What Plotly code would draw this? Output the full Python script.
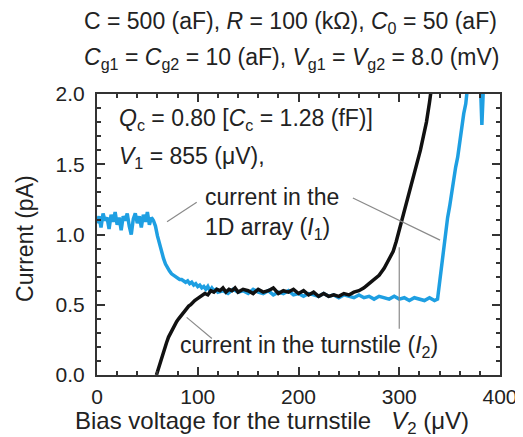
import plotly.graph_objects as go

# ---- data ----
v_array = [0, 2, 4, 6, 8, 10, 12, 14, 16, 18, 20, 22, 24, 26, 28, 30, 32, 34, 36, 38,
           40, 42, 44, 46, 48, 50, 52, 54, 56, 58,
           60, 62, 64, 66, 68, 70, 72, 74, 76, 78, 80, 82, 84, 86, 88, 90, 92, 94, 96, 98,
           100, 102, 104, 106, 108, 110, 112, 114, 116, 118, 120,
           125, 130, 135, 140, 145, 150, 155, 160, 165, 170, 175, 180, 185, 190, 195, 200,
           205, 210, 215, 220, 225, 230, 235, 240, 245, 250, 255, 260, 265, 270, 275, 280,
           285, 290, 295, 300, 305, 310, 315, 320, 325, 330, 335, 338,
           340, 342, 344, 346, 348, 350, 352, 354, 356, 358, 360, 362, 364, 366, 368, 370,
           375, 380, 382, 383, 385]
i_array = [1.08, 1.13, 1.05, 1.15, 1.10, 1.12, 1.04, 1.14, 1.09, 1.16, 1.07, 1.12, 1.03, 1.13, 1.10, 1.15, 1.06, 1.00, 1.11, 1.15,
           1.08, 1.13, 1.05, 1.14, 1.09, 1.16, 1.07, 1.12, 1.10, 1.06,
           0.99, 0.93, 0.87, 0.83, 0.79, 0.76, 0.74, 0.72, 0.71, 0.70, 0.69, 0.68, 0.68, 0.67, 0.66, 0.67, 0.65, 0.66, 0.64, 0.65,
           0.63, 0.64, 0.62, 0.63, 0.61, 0.63, 0.60, 0.62, 0.60, 0.61, 0.59,
           0.60, 0.58, 0.61, 0.59, 0.60, 0.58, 0.61, 0.59, 0.58, 0.60, 0.57, 0.59, 0.58, 0.60, 0.57, 0.58,
           0.56, 0.58, 0.57, 0.56, 0.58, 0.56, 0.57, 0.55, 0.57, 0.56, 0.55, 0.57, 0.55, 0.56, 0.54, 0.56,
           0.55, 0.54, 0.56, 0.54, 0.55, 0.53, 0.55, 0.54, 0.53, 0.55, 0.53, 0.54,
           0.66, 0.78, 0.90, 1.00, 1.12, 1.20, 1.30, 1.38, 1.48, 1.55, 1.66, 1.74, 1.86, 1.93, 2.05, 2.20,
           2.30, 2.20, 1.78, 2.20, 2.30]

v_turnstile = [59, 61, 63, 65, 67, 69, 71, 73, 75, 77, 79, 81, 83, 85, 87, 89, 91, 93, 95, 97,
               99, 101, 104, 107, 110, 113, 116, 119, 122, 125, 128, 131, 134, 137, 140,
               145, 150, 155, 160, 165, 170, 175, 180, 185, 190, 195, 200, 205, 210, 215, 220,
               225, 230, 235, 240, 245, 250, 255, 260, 265, 270, 275, 280, 285, 290, 294, 297,
               300, 303, 306, 309, 312, 315, 318, 321, 324, 327, 330, 332, 334]
i_turnstile = [0.00, 0.05, 0.10, 0.15, 0.19, 0.23, 0.27, 0.30, 0.33, 0.35, 0.38, 0.40, 0.42, 0.44, 0.46, 0.47, 0.49, 0.50, 0.52, 0.53,
               0.54, 0.55, 0.56, 0.58, 0.57, 0.60, 0.59, 0.61, 0.60, 0.62, 0.59, 0.61, 0.60, 0.62, 0.59,
               0.61, 0.60, 0.58, 0.61, 0.59, 0.60, 0.62, 0.58, 0.60, 0.59, 0.61, 0.58, 0.60, 0.57, 0.59, 0.56,
               0.58, 0.56, 0.57, 0.56, 0.58, 0.57, 0.59, 0.60, 0.62, 0.65, 0.68, 0.71, 0.76, 0.82, 0.88, 0.95,
               1.03, 1.11, 1.20, 1.29, 1.37, 1.45, 1.52, 1.60, 1.70, 1.80, 1.94, 2.05, 2.15]

x_ticks = [0, 100, 200, 300, 400]
y_ticks = [0.0, 0.5, 1.0, 1.5, 2.0]
y_tick_labels = ["0.0", "0.5", "1.0", "1.5", "2.0"]

FONT = "Liberation Sans, Arial, sans-serif"
TXT = "#222222"
BLUE = "#1E9FE2"
ANN_SIZE = 23
TICK_SIZE = 21

fig = go.Figure()
fig.add_trace(go.Scatter(x=v_array, y=i_array, mode="lines",
                         line=dict(color=BLUE, width=3.5), showlegend=False))
fig.add_trace(go.Scatter(x=v_turnstile, y=i_turnstile, mode="lines",
                         line=dict(color="#111111", width=3.5), showlegend=False))

axis_common = dict(showline=True, linecolor="#333333", linewidth=2, mirror="ticks",
                   ticks="inside", ticklen=8, tickwidth=1.5, tickcolor="#333333",
                   showgrid=False, zeroline=False, automargin=False,
                   tickfont=dict(family=FONT, size=TICK_SIZE, color=TXT))

fig.update_xaxes(range=[0, 400], tickvals=x_ticks, ticklabelstandoff=2,
                 minor=dict(dtick=20, ticks="inside", ticklen=4, tickwidth=1.5, tickcolor="#333333"),
                 **axis_common)
fig.update_yaxes(range=[0, 2], tickvals=y_ticks, ticktext=y_tick_labels, ticklabelstandoff=6,
                 minor=dict(dtick=0.1, ticks="inside", ticklen=4, tickwidth=1.5, tickcolor="#333333"),
                 **axis_common)

ann_font = dict(family=FONT, size=ANN_SIZE, color=TXT)
annotations = [
    dict(x=0.479, y=1.256, xref="paper", yref="paper", xanchor="center", yanchor="middle", showarrow=False,
         text="C = 500 (aF), <i>R</i> = 100 (kΩ), <i>C</i><sub>0</sub> = 50 (aF)", font=ann_font),
    dict(x=0.485, y=1.128, xref="paper", yref="paper", xanchor="center", yanchor="middle", showarrow=False,
         text="<i>C</i><sub>g1</sub> = <i>C</i><sub>g2</sub> = 10 (aF), <i>V</i><sub>g1</sub> = <i>V</i><sub>g2</sub> = 8.0 (mV)",
         font=ann_font),
    dict(x=0.434, y=-0.168, xref="paper", yref="paper", xanchor="center", yanchor="middle", showarrow=False,
         text="Bias voltage for the turnstile&nbsp;&nbsp;&nbsp;<i>V</i><sub>2</sub> (μV)",
         font=dict(family=FONT, size=24, color=TXT)),
    dict(x=-0.179, y=0.4875, xref="paper", yref="paper", xanchor="center", yanchor="middle", showarrow=False,
         textangle=-90, text="Current (pA)", font=ann_font),
    dict(x=20, y=1.815, xanchor="left", yanchor="middle", showarrow=False,
         text="<i>Q</i><sub>c</sub> = 0.80 [<i>C</i><sub>c</sub> = 1.28 (fF)]", font=ann_font),
    dict(x=20, y=1.55, xanchor="left", yanchor="middle", showarrow=False,
         text="<i>V</i><sub>1</sub> = 855 (μV),", font=ann_font),
    dict(x=105, y=1.15, xanchor="left", yanchor="middle", showarrow=False, align="left",
         text="current in the<br>1D array (<i>I</i><sub>1</sub>)", font=ann_font),
    dict(x=80, y=0.20, xanchor="left", yanchor="middle", showarrow=False,
         text="current in the turnstile (<i>I</i><sub>2</sub>)", font=ann_font),
]
fig.update_layout(annotations=annotations)

lead = dict(color="#8a8a8a", width=1.2)
for x0, y0, x1, y1 in [(69.5, 1.09, 99, 1.23), (254, 1.26, 340.5, 0.96),
                       (89, 0.41, 114, 0.26), (300, 0.91, 300, 0.33)]:
    fig.add_shape(type="line", x0=x0, y0=y0, x1=x1, y1=y1, line=lead, layer="above")

# page body has an 8px default margin, so the figure is 8px smaller and margins shifted
fig.update_layout(width=515, height=429, margin=dict(l=89, r=23, t=86, b=62),
                  paper_bgcolor="white", plot_bgcolor="white",
                  font=dict(family=FONT, size=ANN_SIZE, color=TXT))

fig.write_html("out.html")
